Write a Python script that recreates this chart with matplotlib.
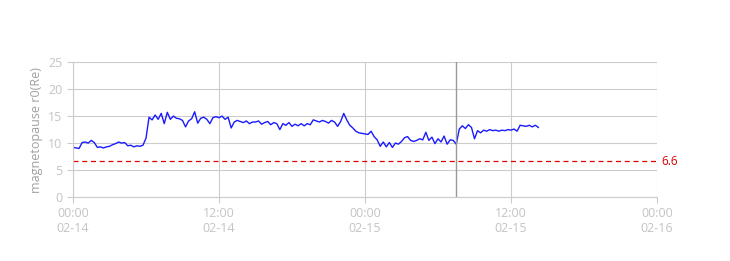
import pandas as pd
import matplotlib
matplotlib.use("Agg")
import matplotlib.pyplot as plt
import matplotlib.dates as mdates

# ---------------------------
# Data (15 min samples starting 02-14 00:00)
# ---------------------------
r0_values = [
    9.2, 9.1, 9.0, 10.1,
    10.2, 10.0, 10.5, 10.1,
    9.2, 9.3, 9.1, 9.3,
    9.4, 9.7, 9.9, 10.2,
    10.0, 10.1, 9.5, 9.6,
    9.3, 9.5, 9.4, 9.6,
    10.9, 14.8, 14.3, 15.2,
    14.4, 15.5, 13.6, 15.7,
    14.4, 15.0, 14.6, 14.5,
    14.2, 13.0, 14.1, 14.5,
    15.8, 13.7, 14.6, 14.8,
    14.4, 13.6, 14.7, 14.9,
    14.7, 15.0, 14.4, 14.8,
    12.8, 13.9, 14.2, 14.0,
    13.8, 14.1, 13.6, 13.9,
    13.9, 14.1, 13.5, 13.8,
    14.0, 13.4, 13.8, 13.6,
    12.5, 13.6, 13.3, 13.8,
    13.1, 13.5, 13.2, 13.6,
    13.2, 13.6, 13.4, 14.3,
    14.1, 13.9, 14.2, 14.0,
    13.7, 14.2, 13.9, 13.1,
    14.0, 15.5, 14.3, 13.3,
    12.8, 12.2, 11.9, 11.8,
    11.7, 11.6, 12.2, 11.2,
    10.6, 9.4, 10.2, 9.3,
    10.1, 9.2, 10.0, 9.8,
    10.3, 11.0, 11.2, 10.5,
    10.3, 10.5, 10.8, 10.6,
    12.0, 10.5, 11.1, 9.9,
    10.8, 10.2, 11.3, 9.8,
    10.6, 10.5, 9.8, 12.6,
    13.2, 12.7, 13.4, 12.9,
    10.8, 12.3, 11.9, 12.4,
    12.2, 12.5, 12.3, 12.4,
    12.2, 12.4, 12.3, 12.5,
    12.4, 12.6, 12.2, 13.3,
    13.2, 13.1, 13.3, 13.0,
    13.3, 12.9,
]
start_time = "2024-02-14 00:00"
end_time = "2024-02-16 00:00"
now_time = "2024-02-15 07:30"
threshold = 6.6
y_ticks = [0, 5, 10, 15, 20, 25]

times = pd.date_range(start_time, periods=len(r0_values), freq="15min")

# ---------------------------
# Plot
# ---------------------------
plt.rcParams["font.family"] = ["Open Sans", "DejaVu Sans"]
fig = plt.figure(figsize=(7.3, 2.61), dpi=100)
ax = fig.add_axes([0.1, 0.245, 0.8, 0.517])

ax.plot(times, r0_values, color="#1a1aff", lw=1.0)
ax.axhline(threshold, color="#dd0000", lw=0.9, ls=(0, (4, 3)))
ax.axvline(pd.Timestamp(now_time), color="#999999", lw=1.0)
ax.text(1.008, threshold, f"{threshold}", color="#dd0000", fontsize=8.5,
        va="center", ha="left", transform=ax.get_yaxis_transform())

ax.set_xlim(pd.Timestamp(start_time), pd.Timestamp(end_time))
ax.set_ylim(0, 25)
ax.set_yticks(y_ticks)
ax.xaxis.set_major_locator(mdates.HourLocator(byhour=[0, 12]))
ax.xaxis.set_major_formatter(mdates.DateFormatter("%H:%M\n%m-%d"))

ax.grid(True, color="#cccccc", lw=0.8)
for s in ["top", "right"]:
    ax.spines[s].set_visible(False)
for s in ["left", "bottom"]:
    ax.spines[s].set_color("#cccccc")
ax.tick_params(colors="#cccccc", labelcolor="#c4c4c4", labelsize=9, length=4)
ax.set_ylabel("magnetopause r0(Re)", color="#a0a0a0", fontsize=9)

fig.savefig("out.png", dpi=100)
